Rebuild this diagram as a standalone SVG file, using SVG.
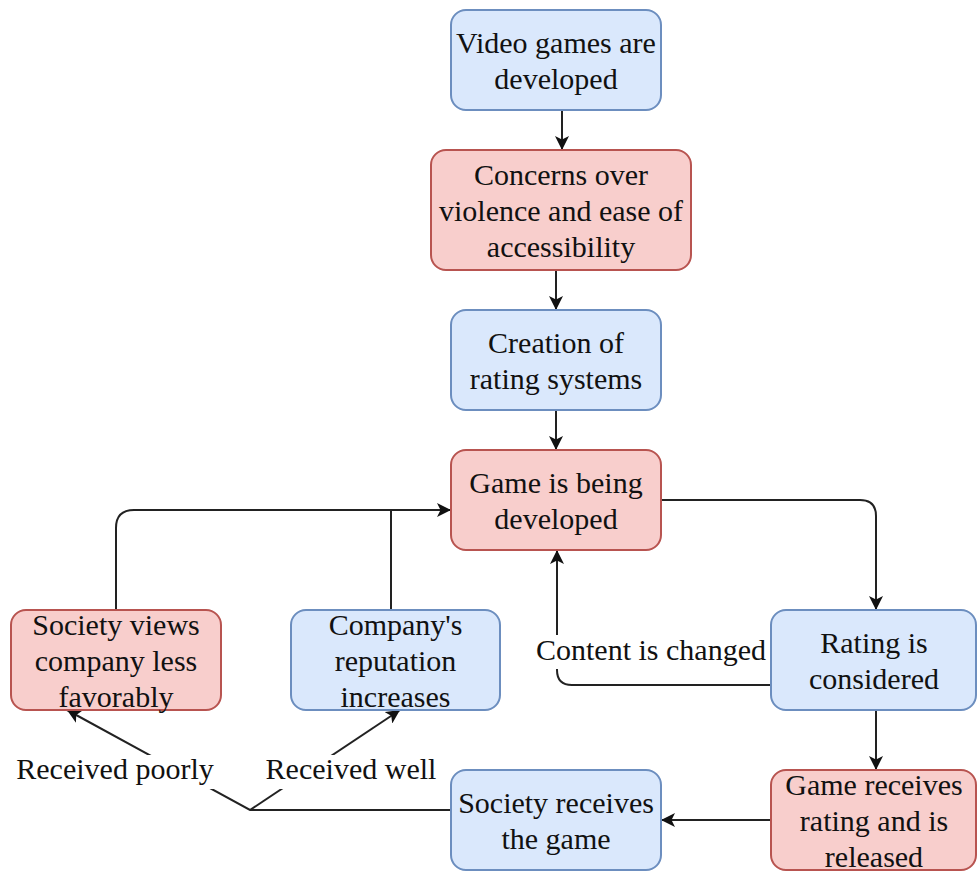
<svg xmlns="http://www.w3.org/2000/svg" width="977" height="873" viewBox="0 0 977 873" font-family="'Liberation Serif', 'Times New Roman', serif">
<style>
.blue{fill:#dae8fc;stroke:#6c8ebf;stroke-width:2}
.red{fill:#f8cecc;stroke:#b85450;stroke-width:2}
text{font-family:'Liberation Serif', 'Times New Roman', serif;font-size:30px;fill:#111;text-anchor:middle}
.edge{fill:none;stroke:#222;stroke-width:2}
.lbl{fill:#fff}
</style>
<defs>
<marker id="arr" viewBox="0 0 14 14" refX="14" refY="7" markerWidth="14" markerHeight="14" markerUnits="userSpaceOnUse" orient="auto">
<path d="M0,0 L14,7 L0,14 L3.5,7 Z" fill="#111"/>
</marker>
</defs>
<rect width="977" height="873" fill="#fff"/>
<g id="connectors">
<path class="edge" d="M562,110 L562,150" marker-end="url(#arr)"/>
<path class="edge" d="M556,270 L556,310" marker-end="url(#arr)"/>
<path class="edge" d="M556,410 L556,450" marker-end="url(#arr)"/>
<path class="edge" d="M661,500 L860,500 Q876,500 876,516 L876,610" marker-end="url(#arr)"/>
<path class="edge" d="M876,710 L876,770" marker-end="url(#arr)"/>
<path class="edge" d="M771,820 L661,820" marker-end="url(#arr)"/>
<path class="edge" d="M771,685 L572,685 Q557,685 557,670 L557,550" marker-end="url(#arr)"/>
<path class="edge" d="M116,610 L116,528 Q116,510 134,510 L451,510" marker-end="url(#arr)"/>
<path class="edge" d="M391,610 L391,510"/>
<path class="edge" d="M451,810 L250,810 L67,710" marker-end="url(#arr)"/>
<path class="edge" d="M250,810 L400,710" marker-end="url(#arr)"/>
<g id="label-content">
<rect class="lbl" x="535" y="635" width="232" height="34"/>
<text x="651" y="660">Content is changed</text>
</g>
<g id="label-poorly">
<rect class="lbl" x="15" y="755" width="199" height="34"/>
<text x="115" y="779">Received poorly</text>
</g>
<g id="label-well">
<rect class="lbl" x="265" y="755" width="172" height="34"/>
<text x="351" y="779">Received well</text>
</g>
</g>
<g id="n1">
<rect class="blue" x="451" y="10" width="210" height="100" rx="15"/>
<text x="556" y="53">Video games are</text>
<text x="556" y="89">developed</text>
</g>
<g id="n2">
<rect class="red" x="431" y="150" width="260" height="120" rx="15"/>
<text x="561" y="185">Concerns over</text>
<text x="561" y="221">violence and ease of</text>
<text x="561" y="257">accessibility</text>
</g>
<g id="n3">
<rect class="blue" x="451" y="310" width="210" height="100" rx="15"/>
<text x="556" y="353">Creation of</text>
<text x="556" y="389">rating systems</text>
</g>
<g id="n4">
<rect class="red" x="451" y="450" width="210" height="100" rx="15"/>
<text x="556" y="493">Game is being</text>
<text x="556" y="529">developed</text>
</g>
<g id="n5">
<rect class="red" x="11" y="610" width="210" height="100" rx="15"/>
<text x="116" y="635">Society views</text>
<text x="116" y="671">company less</text>
<text x="116" y="707">favorably</text>
</g>
<g id="n6">
<rect class="blue" x="291" y="610" width="209" height="100" rx="15"/>
<text x="395.5" y="635">Company's</text>
<text x="395.5" y="671">reputation</text>
<text x="395.5" y="707">increases</text>
</g>
<g id="n7">
<rect class="blue" x="771" y="610" width="205" height="100" rx="15"/>
<text x="874" y="653">Rating is</text>
<text x="874" y="689">considered</text>
</g>
<g id="n8">
<rect class="red" x="771" y="770" width="205" height="100" rx="15"/>
<text x="874" y="795">Game receives</text>
<text x="874" y="831">rating and is</text>
<text x="874" y="867">released</text>
</g>
<g id="n9">
<rect class="blue" x="451" y="770" width="210" height="100" rx="15"/>
<text x="556" y="813">Society receives</text>
<text x="556" y="849">the game</text>
</g>
</svg>
